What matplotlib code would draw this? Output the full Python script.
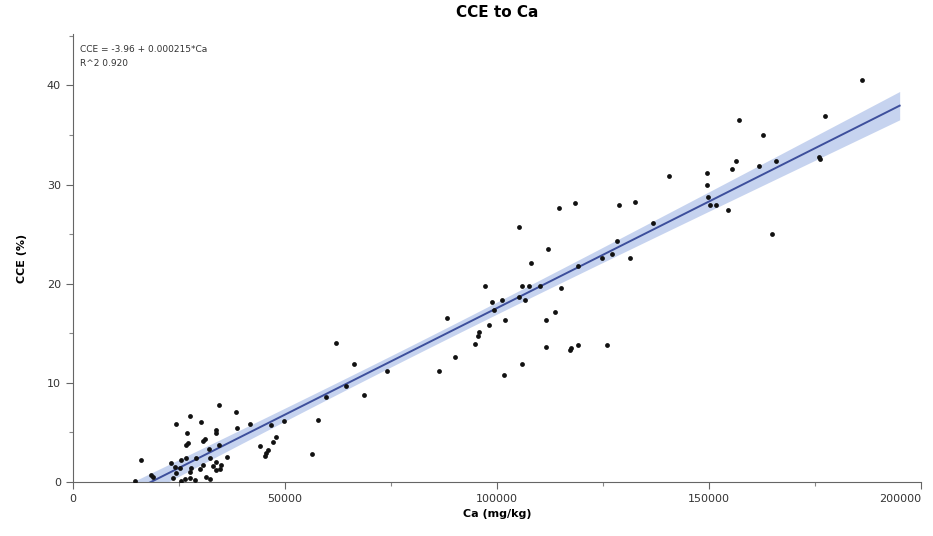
import numpy as np
import matplotlib
matplotlib.use("Agg")
import matplotlib.pyplot as plt
from matplotlib.ticker import MultipleLocator

# ---------------------------------------------------------------------------
# data (Ca in mg/kg, CCE in %)
# ---------------------------------------------------------------------------
ca_low = [34510, 38440, 27590, 24450, 30350, 41750, 38760, 57860, 49760, 46860,
          27040, 33880, 33730, 31130, 30740, 47880, 47250, 27200, 26650, 34510,
          44260, 46070, 45680, 45280, 32150, 56530, 16190, 36400, 25630, 26810,
          29170, 32310, 33880, 23270, 24060, 25240, 27990, 30740, 33880, 34670,
          24450, 27590, 18550, 18950, 14620, 23660, 26410, 27590, 28770, 31530,
          32310, 25630, 33090, 35070, 29950]
cce_low = [7.8, 7.1, 6.7, 5.9, 6.1, 5.9, 5.4, 6.3, 6.2, 5.8,
           4.9, 5.2, 4.9, 4.3, 4.1, 4.5, 4.0, 3.9, 3.7, 3.7,
           3.6, 3.2, 2.9, 2.6, 3.3, 2.8, 2.2, 2.5, 2.2, 2.4,
           2.4, 2.4, 2.05, 1.9, 1.55, 1.4, 1.4, 1.7, 1.2, 1.3,
           0.95, 1.05, 0.7, 0.5, 0.15, 0.4, 0.3, 0.4, 0.2, 0.5,
           0.3, 0.1, 1.6, 1.7, 1.3]

ca_mid = [62190, 64390, 59670, 66270, 68710, 74130, 86320, 88280, 90090, 94810,
          95590, 95900, 97170, 98110, 98900, 99290, 101250, 101650, 101890, 105190,
          105260, 105820, 105820, 106600, 107550, 108020, 110300, 111480, 111480, 112100,
          113680, 114700, 115090, 117220, 117610, 118400, 119030, 119260, 124690, 125870,
          127050]
cce_mid = [14.0, 9.7, 8.55, 11.9, 8.8, 11.2, 11.2, 16.5, 12.6, 13.9,
           14.75, 15.1, 19.8, 15.8, 18.15, 17.4, 18.4, 10.8, 16.3, 18.7,
           25.7, 19.8, 11.9, 18.4, 19.8, 22.1, 19.8, 16.3, 13.6, 23.5,
           17.2, 27.6, 19.6, 13.3, 13.5, 28.1, 21.8, 13.8, 22.6, 13.8,
           23.0]

ca_high = [128370, 128850, 131370, 132550, 136720, 140570, 149450, 149450, 149840, 150240,
           151650, 154400, 155420, 156370, 157080, 161790, 162660, 164780, 165730, 176020,
           176180, 177360, 186010]
cce_high = [24.3, 27.9, 22.6, 28.2, 26.1, 30.9, 31.2, 30.0, 28.8, 27.9,
            27.9, 27.4, 31.6, 32.4, 36.5, 31.9, 35.0, 25.0, 32.4, 32.8,
            32.6, 36.9, 40.6]

x_ticks = [0, 50000, 100000, 150000, 200000]
intercept, slope = -3.96, 0.000215
fit_text = ["CCE = -3.96 + 0.000215*Ca", "R^2 0.920"]
fit_range = (15000, 195000)

ca = np.array(ca_low + ca_mid + ca_high, dtype=float)
cce = np.array(cce_low + cce_mid + cce_high, dtype=float)

# confidence band of the fitted mean
n = len(ca)
resid = cce - (intercept + slope * ca)
s = np.sqrt((resid ** 2).sum() / (n - 2))
sxx = ((ca - ca.mean()) ** 2).sum()
xs = np.linspace(*fit_range, 200)
ys = intercept + slope * xs
half = 1.97 * s * np.sqrt(1 / n + (xs - ca.mean()) ** 2 / sxx)

# ---------------------------------------------------------------------------
# plot
# ---------------------------------------------------------------------------
fig = plt.figure(figsize=(9.33, 5.36), dpi=100)
ax = fig.add_axes([0.078, 0.1007, 0.909, 0.836])

ax.fill_between(xs, ys - half, ys + half, color="#b4c5ea", alpha=0.75, lw=0, zorder=1)
ax.plot(xs, ys, color="#3d4f9c", lw=1.4, zorder=2)
ax.scatter(ca, cce, s=12, color="#111111", zorder=3, linewidths=0)

ax.set_xlim(0, 200000)
ax.set_ylim(0, 45.2)
ax.set_xticks(x_ticks)
ax.set_xticklabels([str(v) for v in x_ticks])
ax.xaxis.set_minor_locator(MultipleLocator(25000))
ax.yaxis.set_major_locator(MultipleLocator(10))
ax.yaxis.set_minor_locator(MultipleLocator(5))
ax.tick_params(which="major", length=5, width=0.8, color="#666666",
               labelsize=8, labelcolor="#333333")
ax.tick_params(which="minor", length=3, width=0.8, color="#888888")
ax.spines[["top", "right"]].set_visible(False)
for sp in ("left", "bottom"):
    ax.spines[sp].set_color("#666666")

# last x label sits left of its tick so it stays inside the figure
ax.get_xticklabels()[-1].set_horizontalalignment("right")

ax.set_title("CCE to Ca", fontsize=11, fontweight="bold", pad=12)
ax.set_xlabel("Ca (mg/kg)", fontsize=8, fontweight="bold", labelpad=4)
ax.set_ylabel("CCE (%)", fontsize=8, fontweight="bold", labelpad=14)

ax.text(0.008, 0.975, fit_text[0], transform=ax.transAxes, fontsize=6.5,
        color="#333333", va="top")
ax.text(0.008, 0.945, fit_text[1], transform=ax.transAxes, fontsize=6.5,
        color="#333333", va="top")

fig.savefig("out.png", dpi=100)
